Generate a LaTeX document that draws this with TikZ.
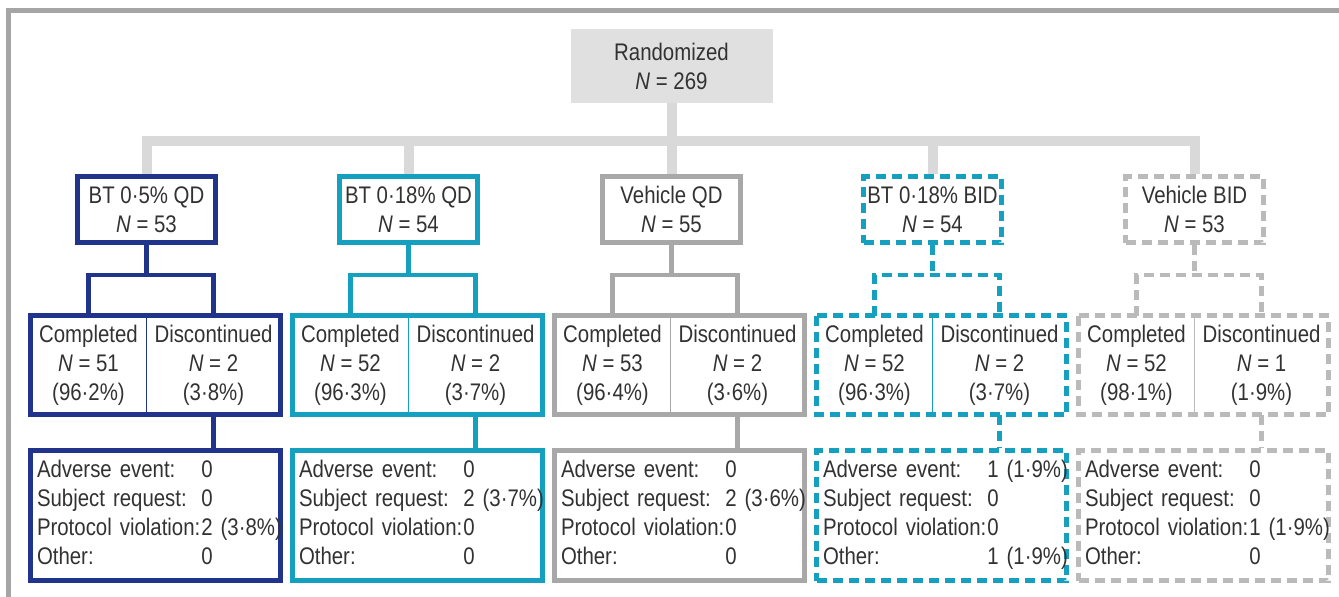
\documentclass[tikz,border=0pt]{standalone}
\usepackage{fontspec}
\setmainfont{Liberation Sans}[FakeStretch=0.85]
\usepackage{tikz}
\usetikzlibrary{positioning}

\definecolor{btdark}{RGB}{32,52,140}
\definecolor{btcyan}{RGB}{22,160,192}
\definecolor{vehgray}{RGB}{168,168,168}
\definecolor{vehlight}{RGB}{186,186,186}
\definecolor{linkgray}{RGB}{217,217,217}
\definecolor{randgray}{RGB}{224,224,224}
\definecolor{framegray}{RGB}{165,165,165}
\definecolor{txtgray}{RGB}{50,50,50}

\newcommand{\reasons}[4]{%
  \begin{tabular}{@{}l@{\hspace{1pt}}l@{}}
    Adverse event: & #1\\
    Subject request: & #2\\
    Protocol violation: & #3\\
    Other: & #4
  \end{tabular}}

\begin{document}
\begin{tikzpicture}[x=1pt, y=-1pt, line join=miter,
  font=\fontsize{24}{29}\selectfont,
  bt5/.style={btdark}, bt18/.style={btcyan}, vehqd/.style={vehgray},
  bt18bid/.style={btcyan, dash pattern=on 10pt off 6pt},
  vehbid/.style={vehlight, dash pattern=on 10pt off 6pt},
  boxline/.style={line width=5pt},
  fork/.style={line width=4.5pt},
  divline/.style={line width=1.5pt, solid},
  link/.style={draw=linkgray, line width=10pt},
  randbox/.style={fill=randgray, minimum width=202pt, minimum height=74pt,
    inner sep=0pt, align=center, text=txtgray},
  armbox/.style={draw, boxline, minimum width=138pt, minimum height=66pt,
    inner sep=0pt, align=center, text=txtgray},
  cellbox/.style={minimum height=99pt, inner sep=0pt, outer sep=0pt,
    align=center, text=txtgray},
  whybox/.style={draw, boxline, minimum width=250pt, minimum height=130pt,
    text width=237pt, inner xsep=6.5pt, inner ysep=0pt, align=left, text=txtgray}]
  \useasboundingbox (0,0) rectangle (1339,597);

  % Marco
  \draw[framegray, line width=4.5pt] (8.5,597) -- (8.5,10.5) -- (1339,10.5);

  % Aleatorizados
  \node[randbox] (rand) at (671.5,66) {Randomized\\\textit{N} = 269};

  % Brazos
  \node[bt5, armbox] (arm1) at (146.5,209.5) {BT 0·5\% QD\\\textit{N} = 53};
  \node[bt18, armbox] (arm2) at (408.5,209.5) {BT 0·18\% QD\\\textit{N} = 54};
  \node[vehqd, armbox] (arm3) at (671.5,209.5) {Vehicle QD\\\textit{N} = 55};
  \node[bt18bid, armbox] (arm4) at (932.5,209.5) {BT 0·18\% BID\\\textit{N} = 54};
  \node[vehbid, armbox] (arm5) at (1194.5,209.5) {Vehicle BID\\\textit{N} = 53};

  % Barra gris
  \coordinate (bar) at (rand.south |- 0,141);
  \draw[link] (rand.south) -- (bar);
  \draw[link] (arm1.north) |- (bar) -| (arm5.north);
  \draw[link] (arm2.north) -- (arm2.north |- bar);
  \draw[link] (arm3.north) -- (arm3.north |- bar);
  \draw[link] (arm4.north) -- (arm4.north |- bar);

  % Completados / discontinuados
  \node[cellbox, minimum width=116pt] (comp1) at (88.5,365) {Completed\\\textit{N} = 51\\(96·2\%)};
  \node[cellbox, minimum width=134pt, right=0pt of comp1] (disc1) {Discontinued\\\textit{N} = 2\\(3·8\%)};
  \node[cellbox, minimum width=116pt] (comp2) at (350.5,365) {Completed\\\textit{N} = 52\\(96·3\%)};
  \node[cellbox, minimum width=134pt, right=0pt of comp2] (disc2) {Discontinued\\\textit{N} = 2\\(3·7\%)};
  \node[cellbox, minimum width=116pt] (comp3) at (612.5,365) {Completed\\\textit{N} = 53\\(96·4\%)};
  \node[cellbox, minimum width=134pt, right=0pt of comp3] (disc3) {Discontinued\\\textit{N} = 2\\(3·6\%)};
  \node[cellbox, minimum width=116pt] (comp4) at (874.5,365) {Completed\\\textit{N} = 52\\(96·3\%)};
  \node[cellbox, minimum width=134pt, right=0pt of comp4] (disc4) {Discontinued\\\textit{N} = 2\\(3·7\%)};
  \node[cellbox, minimum width=116pt] (comp5) at (1136.5,365) {Completed\\\textit{N} = 52\\(98·1\%)};
  \node[cellbox, minimum width=134pt, right=0pt of comp5] (disc5) {Discontinued\\\textit{N} = 1\\(1·9\%)};

  \draw[bt5, boxline] (comp1.north west) rectangle (disc1.south east);
  \draw[bt18, boxline] (comp2.north west) rectangle (disc2.south east);
  \draw[vehqd, boxline] (comp3.north west) rectangle (disc3.south east);
  \draw[bt18bid, boxline] (comp4.north west) rectangle (disc4.south east);
  \draw[vehbid, boxline] (comp5.north west) rectangle (disc5.south east);

  \draw[bt5, divline] (comp1.north east) -- (comp1.south east);
  \draw[bt18, divline] (comp2.north east) -- (comp2.south east);
  \draw[vehqd, divline] (comp3.north east) -- (comp3.south east);
  \draw[bt18bid, divline] (comp4.north east) -- (comp4.south east);
  \draw[vehbid, divline] (comp5.north east) -- (comp5.south east);

  % Horquillas
  \coordinate (fork1) at (arm1.south |- 0,275);
  \coordinate (fork2) at (arm2.south |- 0,275);
  \coordinate (fork3) at (arm3.south |- 0,275);
  \coordinate (fork4) at (arm4.south |- 0,275);
  \coordinate (fork5) at (arm5.south |- 0,275);
  \draw[bt5, fork] (arm1.south) -- (fork1);
  \draw[bt5, fork] (comp1.north) |- (fork1) -| (disc1.north);
  \draw[bt18, fork] (arm2.south) -- (fork2);
  \draw[bt18, fork] (comp2.north) |- (fork2) -| (disc2.north);
  \draw[vehqd, fork] (arm3.south) -- (fork3);
  \draw[vehqd, fork] (comp3.north) |- (fork3) -| (disc3.north);
  \draw[bt18bid, fork] (arm4.south) -- (fork4);
  \draw[bt18bid, fork] (comp4.north) |- (fork4) -| (disc4.north);
  \draw[vehbid, fork] (arm5.south) -- (fork5);
  \draw[vehbid, fork] (comp5.north) |- (fork5) -| (disc5.north);

  % Motivos
  \node[bt5, whybox] (why1) at (155.5,515.5) {\reasons{0}{0}{2 (3·8\%)}{0}};
  \node[bt18, whybox] (why2) at (417.5,515.5) {\reasons{0}{2 (3·7\%)}{0}{0}};
  \node[vehqd, whybox] (why3) at (679.5,515.5) {\reasons{0}{2 (3·6\%)}{0}{0}};
  \node[bt18bid, whybox] (why4) at (941.5,515.5) {\reasons{1 (1·9\%)}{0}{0}{1 (1·9\%)}};
  \node[vehbid, whybox] (why5) at (1203.5,515.5) {\reasons{0}{0}{1 (1·9\%)}{0}};

  \draw[bt5, fork] (disc1.south) -- (disc1.south |- why1.north);
  \draw[bt18, fork] (disc2.south) -- (disc2.south |- why2.north);
  \draw[vehqd, fork] (disc3.south) -- (disc3.south |- why3.north);
  \draw[bt18bid, fork] (disc4.south) -- (disc4.south |- why4.north);
  \draw[vehbid, fork] (disc5.south) -- (disc5.south |- why5.north);
\end{tikzpicture}
\end{document}
